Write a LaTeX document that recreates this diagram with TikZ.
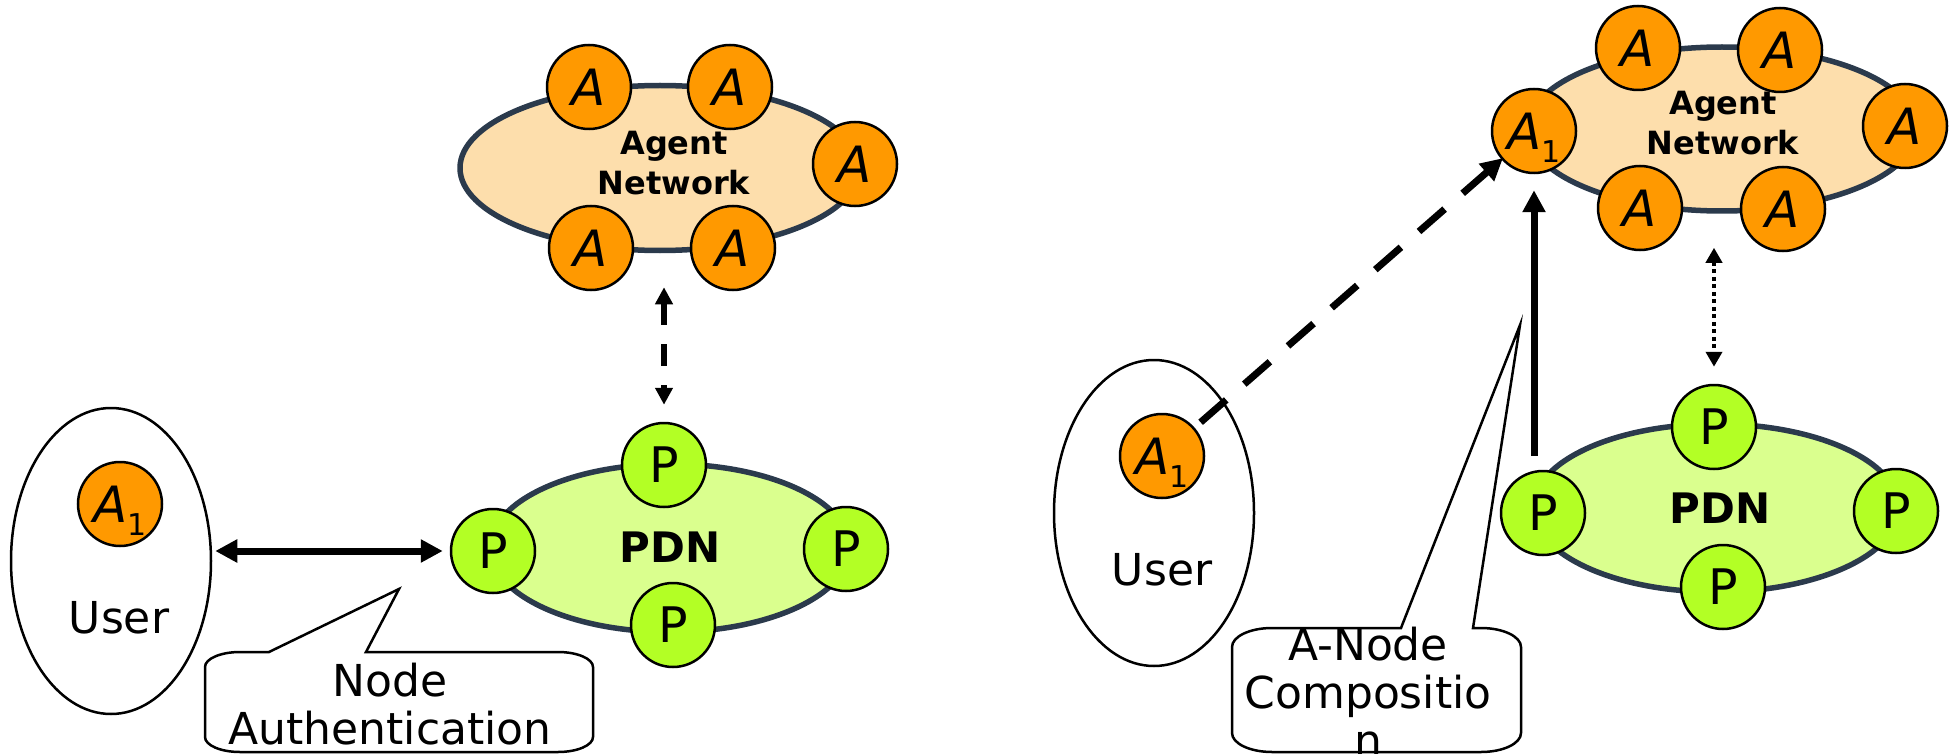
\documentclass[tikz,border=0pt]{standalone}
\usepackage{fontspec}
\setmainfont{DejaVu Sans}
\usetikzlibrary{shapes.geometric,arrows.meta}
\definecolor{agentfill}{HTML}{FF9900}
\definecolor{peerfill}{HTML}{B3FF25}
\definecolor{netfill}{HTML}{FDDEAC}
\definecolor{pdnfill}{HTML}{DAFF8E}
\definecolor{rim}{HTML}{2B3A4C}
% agent label with subscript one hanging below the baseline
\newcommand{\AgentOne}{A\raisebox{-13pt}[0pt][0pt]{\upshape\fontsize{30}{30}\selectfont 1}}
\tikzset{
  tipL/.tip={Triangle[length=22pt,width=22pt]},
  tipM/.tip={Triangle[length=17pt,width=17pt]},
  tipS/.tip={Triangle[length=15pt,width=16pt]},
}
\begin{document}
\begin{tikzpicture}[x=1pt,y=-1pt,
  agent/.style={circle,draw=black,line width=2.5pt,fill=agentfill,minimum size=84pt,inner sep=0pt,
    font=\fontsize{50}{50}\selectfont\itshape},
  peer/.style={circle,draw=black,line width=2.5pt,fill=peerfill,minimum size=84pt,inner sep=0pt,
    font=\fontsize{49}{49}\selectfont},
  net/.style={ellipse,draw=rim,line width=5.5pt,inner sep=0pt},
  usr/.style={ellipse,draw=black,line width=2.5pt,fill=white,minimum width=200pt,minimum height=306pt,inner sep=0pt},
  netlabel/.style={font=\fontsize{32}{40}\selectfont\bfseries,align=center},
  pdnlabel/.style={font=\fontsize{42}{42}\selectfont\bfseries},
  plain/.style={font=\fontsize{44}{48}\selectfont,align=center},
  bubble/.style={draw=black,line width=2.5pt,fill=white},
]
\useasboundingbox (0,0) rectangle (1954,754);

% ---------- left: authentication of a user node ----------
\node[net,fill=netfill,minimum width=400pt,minimum height=165pt] (lnet) at (660,168) {};
\node[netlabel] at (674,163) {Agent\\Network};
\node[agent] (la1) at (589,87) {A};
\node[agent] (la2) at (730,87) {A};
\node[agent] (la3) at (855,164) {A};
\node[agent] (la4) at (591,248) {A};
\node[agent] (la5) at (733,248) {A};

\node[net,fill=pdnfill,minimum width=360pt,minimum height=168pt] (lpdn) at (670,548) {};
\node[pdnlabel] at (670,547) {PDN};
\node[peer] (lpleft) at (493,551) {P};
\node[peer] (lptop) at (664,465) {P};
\node[peer] (lpright) at (846,549) {P};
\node[peer] (lpbot) at (673,625) {P};

\node[usr] (luser) at (111,561) {};
\node[agent] (lua1) at (120,504) {\AgentOne};
\node[plain] at (119,618) {User};

\draw[line width=7pt,tipL-tipL,shorten <=3pt,shorten >=7pt]
  (luser.east |- lpleft.west) -- (lpleft.west);
\draw[line width=6.5pt,dash pattern=on 22pt off 19pt,tipM-tipM,shorten <=34pt,shorten >=17pt]
  (lptop.north |- lnet.south) -- (lptop.north);

\draw[bubble] (269,652) -- (399,589) -- (366,652) -- (558,652)
  arc[start angle=270,end angle=360,x radius=35,y radius=15] -- (593,737)
  arc[start angle=0,end angle=90,x radius=35,y radius=15] -- (240,752)
  arc[start angle=90,end angle=180,x radius=35,y radius=15] -- (205,667)
  arc[start angle=180,end angle=270,x radius=35,y radius=15] -- cycle;
\node[plain] at (390,704) {Node\\Authentication};

% ---------- right: composition of an agent node ----------
\node[net,fill=netfill,minimum width=390pt,minimum height=164pt] (rnet) at (1722,129) {};
\node[netlabel] at (1723,123) {Agent\\Network};
\node[agent] (na1) at (1534,131) {\AgentOne};
\node[agent] (ra2) at (1638,48) {A};
\node[agent] (ra3) at (1780,50) {A};
\node[agent] (ra4) at (1640,208) {A};
\node[agent] (ra5) at (1783,209) {A};
\node[agent] (ra6) at (1905,126) {A};

\node[net,fill=pdnfill,minimum width=366pt,minimum height=168pt] (rpdn) at (1716,508) {};
\node[pdnlabel] at (1720,508) {PDN};
\node[peer] (rpleft) at (1543,513) {P};
\node[peer] (rptop) at (1714,427) {P};
\node[peer] (rpright) at (1896,511) {P};
\node[peer] (rpbot) at (1723,587) {P};

\node[usr] (ruser) at (1154,513) {};
\node[agent] (ua1) at (1162,456) {\AgentOne};
\node[plain] at (1162,570) {User};

\draw[line width=7pt,dash pattern=on 34pt off 24pt,-tipL,shorten <=8pt,shorten >=-2pt]
  (ua1) -- (na1);
\draw[line width=7pt,-tipL,shorten <=14pt,shorten >=16pt]
  (rpleft.north -| na1.south) -- (na1.south);
\draw[line width=4pt,dash pattern=on 4pt off 3.5pt,tipS-tipS,shorten <=34pt,shorten >=17pt]
  (rptop.north |- rnet.south) -- (rptop.north);

\draw[bubble] (1401,628) -- (1520,325) -- (1473,628) -- (1481,628)
  arc[start angle=270,end angle=360,x radius=40,y radius=19] -- (1521,733)
  arc[start angle=0,end angle=90,x radius=40,y radius=19] -- (1272,752)
  arc[start angle=90,end angle=180,x radius=40,y radius=19] -- (1232,647)
  arc[start angle=180,end angle=270,x radius=40,y radius=19] -- cycle;
\node[plain] at (1368,692) {A-Node\\Compositio\\n};
\end{tikzpicture}
\end{document}
